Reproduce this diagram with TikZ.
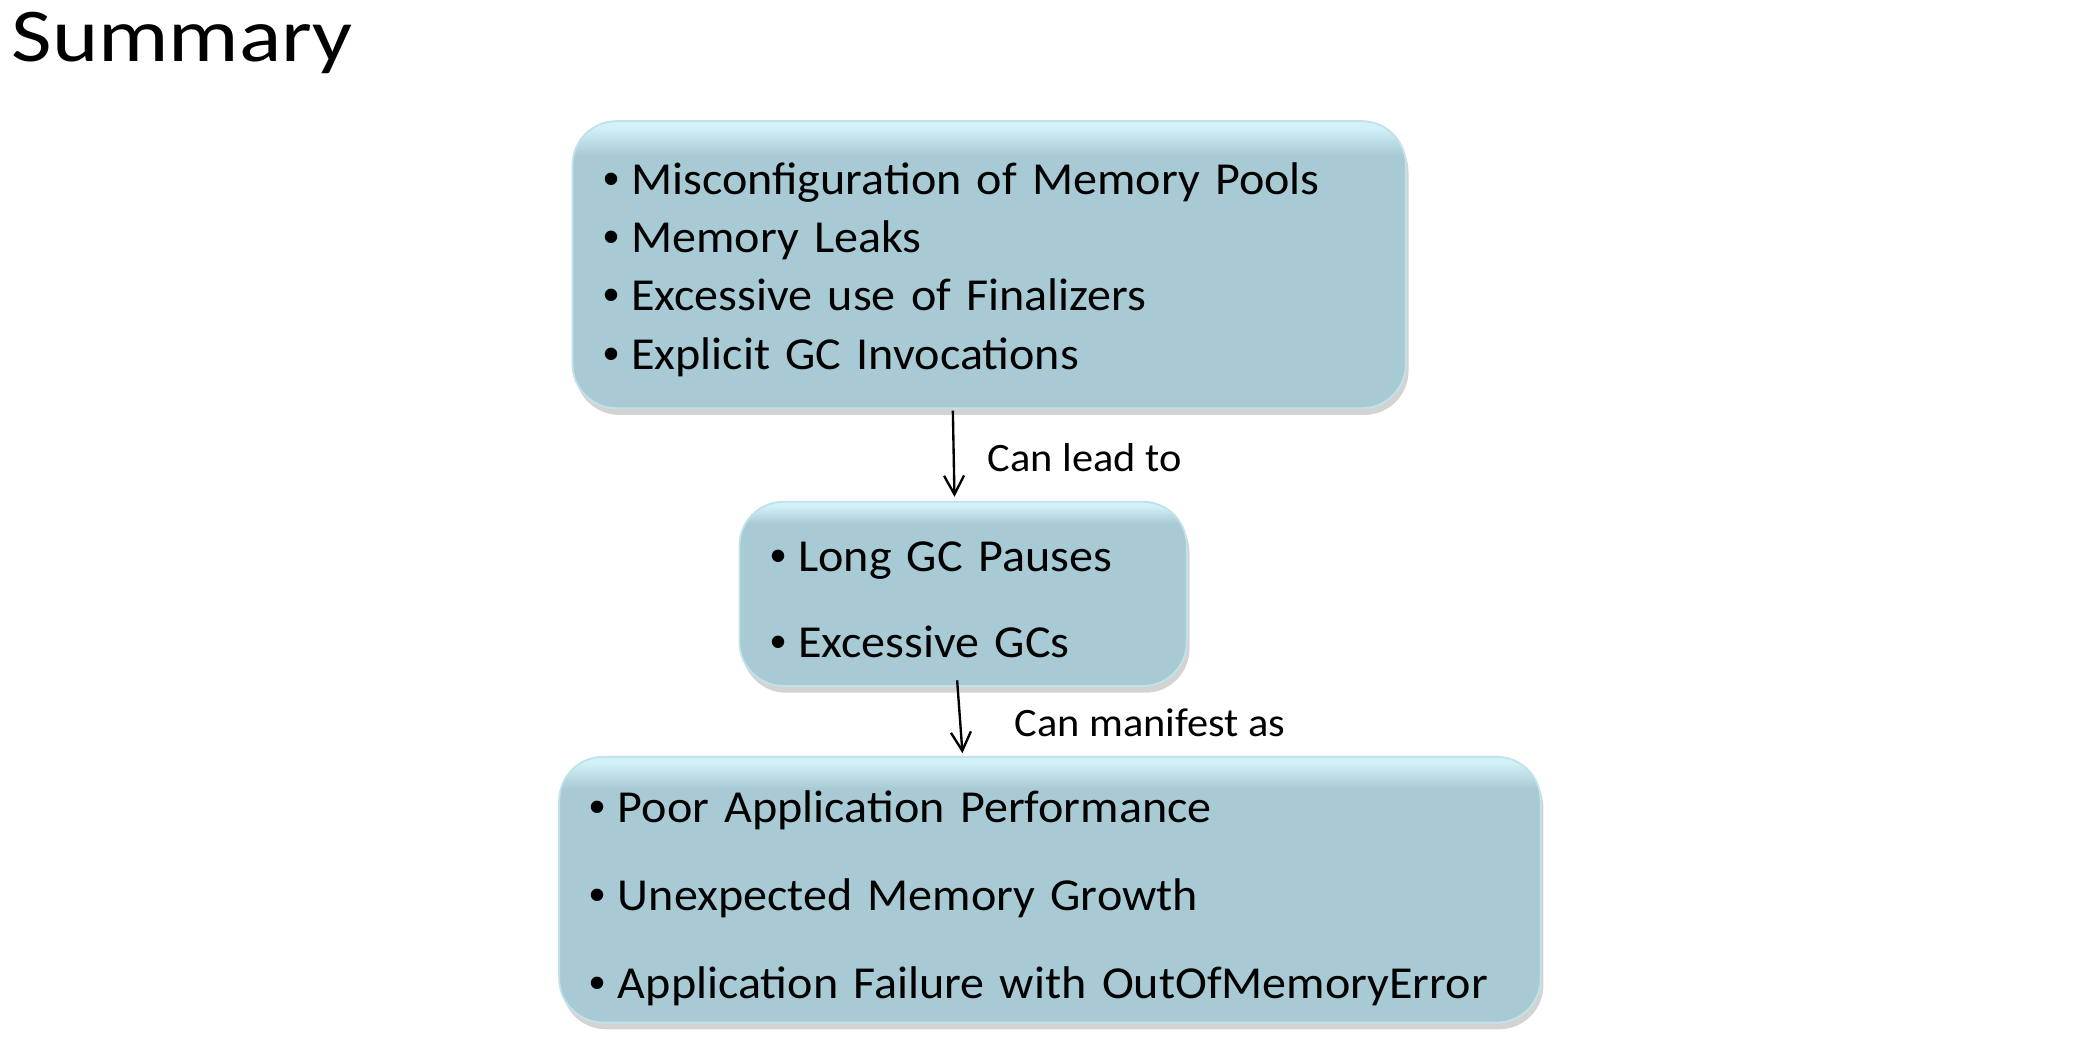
\documentclass[tikz,border=0pt]{standalone}
\usepackage{fontspec}
\setmainfont{Carlito}[FakeStretch=1.05]
\newfontfamily\titlefont{Carlito}[FakeStretch=1.16]
\newfontfamily\bulletfont{Liberation Sans}
\usetikzlibrary{arrows.meta,shadows}

\definecolor{boxbase}{HTML}{A8CAD4}
\definecolor{boxtop}{HTML}{D3F2F8}
\pgfdeclareverticalshading{glossy}{100bp}{color(0bp)=(boxbase); color(25bp)=(boxbase); color(69bp)=(boxbase); color(74bp)=(boxtop); color(100bp)=(boxtop)}

\newcommand{\bitem}{\makebox[0.21cm][l]{\bulletfont\textbullet}}

\tikzset{
  listbox/.style={rounded corners=0.33cm, shading=glossy, draw=boxtop!60!boxbase, line width=0.4pt,
    drop shadow={shadow xshift=0.02cm, shadow yshift=-0.05cm, opacity=0.35},
    align=left, anchor=north west, inner xsep=0.23cm, inner ysep=0pt},
  steplabel/.style={anchor=base west, inner sep=0pt, font=\fontsize{8.6}{10}\selectfont}
}

\begin{document}
\begin{tikzpicture}[>={Straight Barb[length=1.4mm,width=1.5mm]}]
  \useasboundingbox (0,0) rectangle (15.68,7.82);

  % Title
  \node[anchor=base west, inner sep=0pt, font=\titlefont\fontsize{16.2}{19}\selectfont] (title) at (0.08,7.358) {Summary};

  % Boxes
  \node[listbox, text width=5.78cm, text height=0.546cm, text depth=1.604cm, font=\fontsize{9.76}{12.43}\selectfont] (causes) at (4.28,6.92)
    {\bitem Misconfiguration of Memory Pools\\
     \bitem Memory Leaks\\
     \bitem Excessive use of Finalizers\\
     \bitem Explicit GC Invocations};
  \node[listbox, text width=2.89cm, text height=0.524cm, text depth=0.856cm, font=\fontsize{9.76}{18.3}\selectfont] (pauses) at (5.53,4.07)
    {\bitem Long GC Pauses\\
     \bitem Excessive GCs};
  \node[listbox, text width=6.89cm, text height=0.49cm, text depth=1.50cm, font=\fontsize{9.76}{18.78}\selectfont] (effects) at (4.18,2.16)
    {\bitem Poor Application Performance\\
     \bitem Unexpected Memory Growth\\
     \bitem Application Failure with OutOfMemoryError};

  % Labels
  \node[steplabel] (leadto) at (7.39,4.287) {Can lead to};
  \node[steplabel] (manifest) at (7.59,2.307) {Can manifest as};

  % Arrows
  \draw[->, line width=0.5pt] ([xshift=-0.272cm,yshift=-0.01cm]causes.south) -- ([xshift=-0.065cm,yshift=0.03cm]pauses.north);
  \draw[->, line width=0.5pt] ([xshift=-0.045cm,yshift=0.05cm]pauses.south) -- ([xshift=-0.655cm,yshift=0.02cm]effects.north);

\end{tikzpicture}
\end{document}
